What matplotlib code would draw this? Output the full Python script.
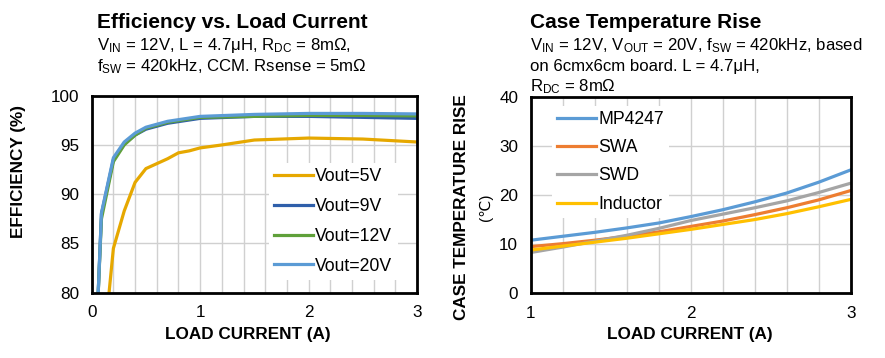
import matplotlib
matplotlib.use("Agg")
import matplotlib.pyplot as plt
import numpy as np

plt.rcParams['font.family'] = ['Liberation Sans', 'DejaVu Sans']
plt.rcParams['mathtext.default'] = 'regular'

# efficiency data (load current in A, efficiency in %)
i_5v = [0.16, 0.2, 0.3, 0.4, 0.5, 0.6, 0.7, 0.8, 0.9, 1.0, 1.2, 1.5, 2.0, 2.5, 3.0]
eff_5v = [80.0, 84.5, 88.3, 91.2, 92.6, 93.1, 93.6, 94.2, 94.4, 94.7, 95.0, 95.5, 95.7, 95.6, 95.3]
i_hi = [0.06, 0.09, 0.2, 0.3, 0.4, 0.5, 0.7, 1.0, 1.5, 2.0, 2.5, 3.0]
eff_9v = [80.0, 88.0, 93.5, 95.1, 96.0, 96.6, 97.2, 97.7, 97.9, 97.9, 97.8, 97.7]
eff_12v = [80.0, 87.5, 93.3, 95.0, 96.0, 96.7, 97.3, 97.8, 97.9, 98.0, 98.0, 97.95]
eff_20v = [80.0, 88.1, 93.7, 95.3, 96.2, 96.8, 97.4, 97.9, 98.1, 98.2, 98.2, 98.15]

# case temperature rise data
i_temp = [1.0, 1.2, 1.4, 1.6, 1.8, 2.0, 2.2, 2.4, 2.6, 2.8, 3.0]
t_mp4247 = [10.8, 11.6, 12.4, 13.3, 14.3, 15.6, 17.0, 18.6, 20.4, 22.6, 25.1]
t_swa = [9.5, 10.1, 10.8, 11.6, 12.5, 13.6, 14.7, 16.0, 17.4, 19.0, 20.9]
t_swd = [8.3, 9.4, 10.6, 11.8, 13.2, 14.8, 16.1, 17.4, 18.8, 20.5, 22.4]
t_ind = [8.8, 9.6, 10.4, 11.2, 12.1, 13.0, 14.0, 15.0, 16.2, 17.6, 19.1]

W, H = 885, 358
fig = plt.figure(figsize=(W / 100, H / 100), dpi=100)

def px(x, y):
    return x / W, 1 - y / H

def style_axes(ax):
    for s in ax.spines.values():
        s.set_linewidth(2.0)
        s.set_color('black')
    ax.tick_params(which='both', length=0, labelsize=12.3, pad=9)
    ax.grid(True, which='both', color='#D0D0D0', lw=1.0)
    ax.set_axisbelow(True)

lw = 2.3
leg_kw = dict(fontsize=12.7, handlelength=2.2, handletextpad=0.15,
              frameon=True, fancybox=False, edgecolor='none', framealpha=1,
              borderpad=0.3)

# left chart
ax1 = fig.add_axes([91.7 / W, 1 - 292.7 / H, 325.3 / W, 197 / H])
ax1.plot(i_5v, eff_5v, color='#E6A800', lw=lw, label='Vout=5V')
ax1.plot(i_hi, eff_9v, color='#2F5FAA', lw=lw, label='Vout=9V')
ax1.plot(i_hi, eff_12v, color='#5FA03A', lw=lw, label='Vout=12V')
ax1.plot(i_hi, eff_20v, color='#5B9BD5', lw=lw, label='Vout=20V')
ax1.set_xlim(0, 3)
ax1.set_ylim(80, 100)
ax1.set_xticks([0, 1, 2, 3])
ax1.set_xticks(np.arange(0, 3.01, 0.2), minor=True)
ax1.set_yticks([80, 85, 90, 95, 100])
style_axes(ax1)
ax1.legend(loc='lower left', bbox_to_anchor=(168 / 325.3, 4 / 197), labelspacing=0.72, **leg_kw)

# right chart
ax2 = fig.add_axes([530.7 / W, 1 - 293.3 / H, 320 / W, 196.6 / H])
ax2.plot(i_temp, t_mp4247, color='#5B9BD5', lw=lw, label='MP4247')
ax2.plot(i_temp, t_swa, color='#ED7D31', lw=lw, label='SWA')
ax2.plot(i_temp, t_swd, color='#A5A5A5', lw=lw, label='SWD')
ax2.plot(i_temp, t_ind, color='#FFC000', lw=lw, label='Inductor')
ax2.set_xlim(1, 3)
ax2.set_ylim(0, 40)
ax2.set_xticks([1, 2, 3])
ax2.set_xticks(np.arange(1, 3.01, 0.2), minor=True)
ax2.set_yticks([0, 10, 20, 30, 40])
style_axes(ax2)
ax2.legend(loc='upper left', bbox_to_anchor=(12 / 320, 1), labelspacing=0.64, **leg_kw)

# titles and subtitles
fig.text(*px(97, 28), 'Efficiency vs. Load Current', fontsize=15, fontweight='bold', va='baseline')
fig.text(*px(97, 50), r'V$_{IN}$ = 12V, L = 4.7μH, R$_{DC}$ = 8mΩ,', fontsize=12.1, va='baseline')
fig.text(*px(97, 71), r'f$_{SW}$ = 420kHz, CCM. Rsense = 5mΩ', fontsize=12.1, va='baseline')

fig.text(*px(530, 28), 'Case Temperature Rise', fontsize=15, fontweight='bold', va='baseline')
fig.text(*px(530, 50), r'V$_{IN}$ = 12V, V$_{OUT}$ = 20V, f$_{SW}$ = 420kHz, based', fontsize=12.1, va='baseline')
fig.text(*px(530, 71), 'on 6cmx6cm board. L = 4.7μH,', fontsize=12.1, va='baseline')
fig.text(*px(530, 91), r'R$_{DC}$ = 8mΩ', fontsize=12.1, va='baseline')

# axis labels
fig.text(*px(248, 334), 'LOAD CURRENT (A)', fontsize=12.3, fontweight='bold', ha='center', va='center')
fig.text(*px(690, 334), 'LOAD CURRENT (A)', fontsize=12.3, fontweight='bold', ha='center', va='center')
fig.text(*px(19, 171), 'EFFICIENCY (%)', fontsize=12.3, fontweight='bold', rotation=90, ha='center', va='center')
fig.text(*px(462, 207), 'CASE TEMPERATURE RISE', fontsize=12.3, fontweight='bold', rotation=90, ha='center', va='center')
fig.text(*px(486, 207), '(℃)', fontsize=11, rotation=90, ha='center', va='center')

fig.savefig('out.png', dpi=100)
